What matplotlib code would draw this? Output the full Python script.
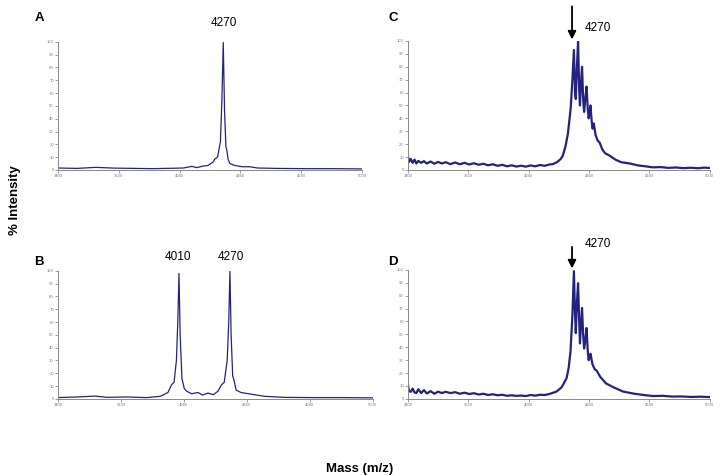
import matplotlib
matplotlib.use("Agg")
import matplotlib.pyplot as plt

plt.rcParams['font.family'] = ['Liberation Sans', 'DejaVu Sans']

# ---- spectra (mass in Da, % intensity) ----
mass_a = [3400, 3500, 3600, 3700, 3800, 3900, 4000, 4060, 4105, 4130, 4163, 4190,
          4215, 4226, 4240, 4255, 4263, 4270, 4277, 4284, 4288, 4296, 4305, 4330,
          4370, 4410, 4450, 4550, 4700, 4850, 5000]
int_a = [1.5, 1.2, 2.0, 1.4, 1.2, 1.0, 1.3, 1.5, 2.8, 1.8, 3.0, 3.5,
         6.0, 8.5, 10, 22, 55, 99.5, 45, 18, 16, 8, 5, 3.5,
         2.5, 2.5, 1.5, 1.2, 1.0, 1.0, 0.8]

mass_b = [3400, 3500, 3588, 3650, 3750, 3850, 3920, 3959, 3977, 3990, 4002, 4009,
          4015, 4021, 4030, 4042, 4054, 4080, 4111, 4135, 4162, 4190, 4213, 4231,
          4245, 4260, 4268, 4274, 4280, 4288, 4294, 4305, 4330, 4370, 4409, 4450,
          4550, 4700, 4850, 5000]
int_b = [1.0, 1.5, 2.2, 1.2, 1.5, 1.0, 2.0, 5.0, 11, 13, 30, 60,
         98, 50, 16, 8, 6, 4.0, 5.0, 3.0, 4.5, 3.3, 6.0, 11,
         13, 30, 60, 100, 50, 18, 15, 7, 5, 4, 3.0, 2.0,
         1.2, 1.0, 1.0, 0.8]

mass_c = [3400, 3405, 3415, 3425, 3435, 3445, 3455, 3470, 3485, 3500, 3520, 3540,
          3560, 3580, 3600, 3625, 3650, 3675, 3700, 3725, 3750, 3775, 3800, 3825,
          3850, 3875, 3900, 3925, 3950, 3975, 4000, 4025, 4050, 4075, 4100, 4125,
          4150, 4168, 4190, 4210, 4221, 4235, 4248, 4263, 4272, 4280, 4286, 4290,
          4296, 4302, 4308, 4312, 4318, 4323, 4329, 4334, 4340, 4347, 4353, 4358,
          4363, 4368, 4374, 4379, 4385, 4395, 4405, 4417, 4430, 4445, 4470, 4500,
          4530, 4576, 4620, 4660, 4698, 4740, 4780, 4820, 4860, 4900, 4940, 4970, 5000]
int_c = [11, 6.0, 8.5, 5.5, 8.0, 5.0, 7.0, 5.5, 6.8, 5.0, 6.5, 4.8,
         6.2, 5.0, 6.0, 4.5, 5.8, 4.4, 5.5, 4.2, 5.2, 4.0, 4.8, 3.6,
         4.4, 3.2, 4.0, 2.8, 3.6, 2.6, 3.3, 2.5, 3.5, 2.8, 3.8, 3.2,
         4.2, 4.5, 6.0, 8.5, 11, 18, 28, 48, 70, 93, 60, 55,
         80, 99.5, 62, 50, 68, 80, 55, 45, 55, 64.6, 48, 40,
         44, 50, 38, 32, 36, 27, 23, 21, 16, 13, 11, 8,
         6, 5, 3.5, 2.8, 2.0, 2.2, 1.6, 1.9, 1.4, 1.7, 1.3, 1.8, 1.5]

mass_d = [3400, 3405, 3415, 3425, 3435, 3445, 3455, 3470, 3485, 3500, 3520, 3540,
          3560, 3580, 3600, 3625, 3650, 3675, 3700, 3725, 3750, 3775, 3800, 3825,
          3850, 3875, 3900, 3925, 3950, 3975, 4000, 4025, 4050, 4075, 4100, 4125,
          4150, 4188, 4215, 4241, 4252, 4262, 4272, 4280, 4285, 4290, 4296, 4302,
          4308, 4312, 4318, 4323, 4329, 4334, 4340, 4347, 4353, 4358, 4363, 4368,
          4378, 4390, 4400, 4420, 4450, 4490, 4540, 4600, 4650, 4700, 4750, 4800,
          4850, 4900, 4950, 5000]
int_d = [11.6, 6.0, 5.5, 8.0, 5.0, 4.5, 7.5, 4.5, 6.8, 4.2, 6.0, 4.0,
         5.6, 4.5, 5.5, 4.5, 5.2, 4.0, 4.8, 3.8, 4.4, 3.4, 4.0, 3.0,
         3.6, 2.8, 3.2, 2.4, 2.8, 2.3, 2.6, 2.2, 3.0, 2.5, 3.2, 3.0,
         3.8, 5.7, 9, 16, 24, 37, 65, 99, 70, 51,
         75, 89.7, 60, 43, 58, 70.5, 50, 39, 45, 55, 38, 30,
         32, 35, 27, 23, 22, 17, 12, 9, 5.7, 4.0, 3.0, 2.2, 2.4, 1.8,
         1.9, 1.5, 1.7, 1.4]

x_ticks = [3400, 3720, 4040, 4360, 4680, 5000]
y_ticks = list(range(0, 101, 10))

line_col = "#23237f"

fig = plt.figure(figsize=(7.22, 4.76), dpi=100)

# axes boxes in figure fractions
ax_a = fig.add_axes([0.0803, 0.643, 0.421, 0.269])
ax_b = fig.add_axes([0.0803, 0.162, 0.436, 0.269])
ax_c = fig.add_axes([0.565, 0.643, 0.418, 0.271])
ax_d = fig.add_axes([0.565, 0.162, 0.418, 0.271])

panels = [(ax_a, mass_a, int_a, 0.9), (ax_b, mass_b, int_b, 0.9),
          (ax_c, mass_c, int_c, 1.6), (ax_d, mass_d, int_d, 1.6)]

for ax, m, y, lw in panels:
    ax.plot(m, y, color=line_col, lw=lw, solid_joinstyle="round")
    ax.set_xlim(3400, 5000)
    ax.set_ylim(0, 100)
    ax.set_xticks(x_ticks)
    ax.set_yticks(y_ticks)
    ax.tick_params(labelsize=3, length=2, width=0.5, colors="#777777", pad=1)
    for s in ["top", "right"]:
        ax.spines[s].set_visible(False)
    for s in ["left", "bottom"]:
        ax.spines[s].set_color("#888888")
        ax.spines[s].set_linewidth(0.7)

# peak labels
ax_a.text(4274, 115, "4270", ha="center", va="center", fontsize=8.5, clip_on=False)
ax_b.text(4010, 111, "4010", ha="center", va="center", fontsize=8.5, clip_on=False)
ax_b.text(4279, 111, "4270", ha="center", va="center", fontsize=8.5, clip_on=False)

for ax, top, txt_y in [(ax_c, 129, 110), (ax_d, 120, 120)]:
    ax.annotate("", xy=(4270, 99), xytext=(4270, top),
                arrowprops=dict(arrowstyle="-|>", color="black", lw=1.3,
                                mutation_scale=12), annotation_clip=False)
    ax.text(4405, txt_y, "4270", ha="center", va="center", fontsize=8.5,
            clip_on=False)

# panel letters
for lbl, x, y in [("A", 39, 18), ("B", 39, 262), ("C", 393, 18), ("D", 393, 262)]:
    fig.text(x / 722, 1 - y / 476, lbl, fontsize=9.5, fontweight="bold",
             ha="center", va="center")

fig.text(15 / 722, 1 - 200 / 476, "% Intensity", rotation=90, fontsize=9.5,
         fontweight="bold", ha="center", va="center")
fig.text(360 / 722, 1 - 469 / 476, "Mass (m/z)", fontsize=9.5,
         fontweight="bold", ha="center", va="center")

fig.savefig("out.png", dpi=100)
